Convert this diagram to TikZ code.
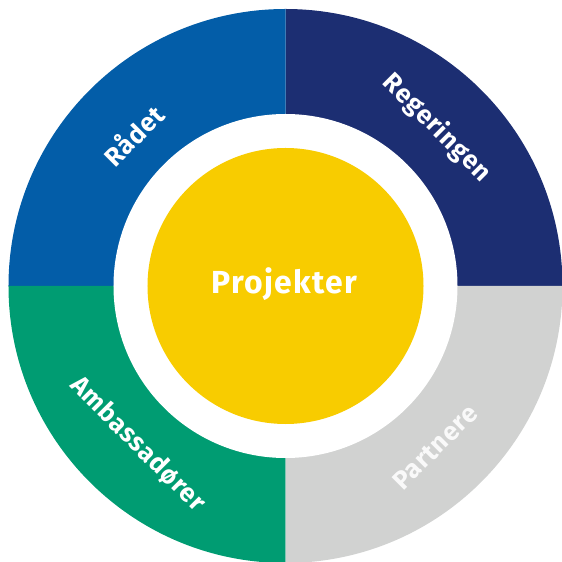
\documentclass[tikz,border=0pt]{standalone}
\usepackage{fontspec}
\setmainfont{Fira Sans}
\definecolor{cblue}{HTML}{035DA8}
\definecolor{cnavy}{HTML}{1C2E72}
\definecolor{cgreen}{HTML}{009C72}
\definecolor{cgray}{HTML}{D1D2D1}
\definecolor{cyellow}{HTML}{F8CC00}
\begin{document}
\begin{tikzpicture}[x=1bp,y=1bp,
  lbl/.style={text=white,font=\fontsize{26}{30}\selectfont\bfseries\addfontfeatures{LetterSpace=3},inner sep=0pt,anchor=center},
  ctr/.style={text=white,font=\fontsize{32}{36}\selectfont\bfseries\addfontfeatures{LetterSpace=4},inner sep=0pt}]
\useasboundingbox (-285.5,-276) rectangle (276.5,286);
\fill[cnavy] (0,0) -- (0:277) arc[start angle=0,end angle=90,radius=277] -- cycle;
\fill[cblue] (0,0) -- (90:277) arc[start angle=90,end angle=180,radius=277] -- cycle;
\fill[cgreen] (0,0) -- (180:277) arc[start angle=180,end angle=270,radius=277] -- cycle;
\fill[cgray] (0,0) -- (270:277) arc[start angle=270,end angle=360,radius=277] -- cycle;
\fill[white] (0,0) circle[radius=172];
\node[circle,fill=cyellow,minimum size=276bp,inner sep=0pt] (core) at (0,0) {};
\node[ctr] (proj) at (-1,2) {Projekter};
\node[lbl,rotate=45] (raadet) at (-152.5,151) {Rådet};
\node[lbl,rotate=-45] (reg) at (151.5,158) {Regeringen};
\node[lbl,rotate=-45] (amb) at (-147.5,-158) {Ambassadører};
\node[lbl,rotate=45,text=white!95!gray] (part) at (149.5,-161) {Partnere};
\end{tikzpicture}
\end{document}
